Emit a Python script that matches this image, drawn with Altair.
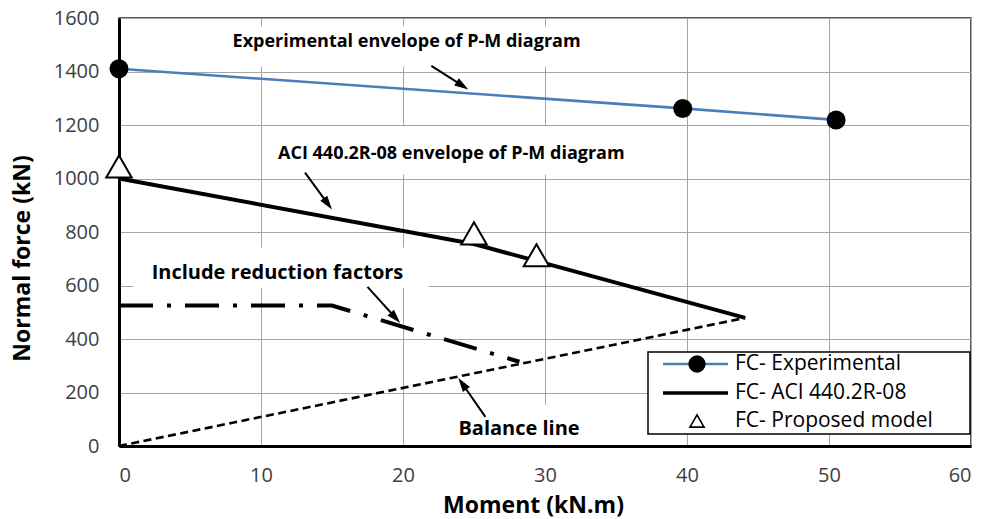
import math
import altair as alt
import pandas as pd

# Interaction envelopes: moment (kN.m) vs normal force (kN)
exp_moment = [0, 39.7, 50.5]
exp_force = [1410, 1262, 1219]
aci_moment = [0, 25, 44.1]
aci_force = [1000, 755, 479]
model_moment = [0, 25, 29.4]
model_force = [1045, 795, 713]
reduced_moment = [0, 15, 28.2]
reduced_force = [525, 525, 315]
balance_moment = [0, 44.1]
balance_force = [0, 479]

x_ticks = [0, 10, 20, 30, 40, 50, 60]
y_ticks = [0, 200, 400, 600, 800, 1000, 1200, 1400, 1600]

# Annotation texts anchored in data units (left edge, vertical middle)
note_text = ["Experimental envelope of P-M diagram",
             "ACI 440.2R-08 envelope of P-M diagram",
             "Include reduction factors",
             "Balance line"]
note_m = [8.0, 11.2, 2.3, 23.9]
note_p = [1509, 1090, 648, 64]
note_size = [18, 18, 20, 20]
# white boxes behind the annotation texts
box_m = [7.5, 10.6, 1.0, 23.3]
box_m2 = [33.2, 36.7, 21.8, 33.2]
box_p = [1569, 1195, 742, 154]
box_p2 = [1419, 1015, 592, 4]
# arrows: start -> tip
arrow_m = [22.0, 13.1, 17.5, 25.8]
arrow_p = [1421, 1022, 595, 109]
arrow_m2 = [24.6, 15.0, 19.8, 23.9]
arrow_p2 = [1333, 884, 460, 254]

legend_labels = ["FC- Experimental", "FC- ACI 440.2R-08", "FC- Proposed model"]

W, H = 852, 428
X_MAX, Y_MAX = 60, 1600
SX, SY = W / X_MAX, H / Y_MAX  # pixels per data unit
FONT = "Open Sans"
HEAD = 196  # arrowhead symbol size

xscale = alt.Scale(domain=[0, X_MAX], nice=False, zero=False)
yscale = alt.Scale(domain=[0, Y_MAX], nice=False, zero=False)

x_axis = alt.Axis(values=x_ticks, format="d", title="Moment (kN.m)", grid=True, ticks=False,
                  labelPadding=19, labelFontSize=20, labelFont=FONT, labelColor="#404040",
                  titleFont=FONT, titleFontSize=23, titleFontWeight="bold", titleColor="#000",
                  titleX=414, titleY=59, titleAlign="center", titleBaseline="middle",
                  domainColor="#000", domainWidth=3, gridColor="#a6a6a6", gridWidth=1)
y_axis = alt.Axis(values=y_ticks, format="d", title="Normal force (kN)", grid=True, ticks=False,
                  labelPadding=20, labelFontSize=20, labelFont=FONT, labelColor="#404040",
                  titleFont=FONT, titleFontSize=23, titleFontWeight="bold", titleColor="#000",
                  titleAngle=270, titleX=-97, titleY=240, titleAlign="center",
                  titleBaseline="middle",
                  domainColor="#000", domainWidth=3, gridColor="#a6a6a6", gridWidth=1)


def X(field="m"):
    return alt.X(f"{field}:Q", scale=xscale, axis=x_axis)


def Y(field="p"):
    return alt.Y(f"{field}:Q", scale=yscale, axis=y_axis)


def series(ms, ps):
    return pd.DataFrame({"m": ms, "p": ps, "order": list(range(len(ms)))})


exp_df = series(exp_moment, exp_force)
aci_df = series(aci_moment, aci_force)
model_df = series(model_moment, model_force)
red_df = series(reduced_moment, reduced_force)
bal_df = series(balance_moment, balance_force)

boxes_df = pd.DataFrame({"m": box_m, "m2": box_m2, "p": box_p, "p2": box_p2})
notes_df = pd.DataFrame({"m": note_m, "p": note_p, "t": note_text, "fs": note_size})

# arrow shafts end at the arrowhead centre; heads rotated along the shaft
rows = []
for m0, p0, m1, p1 in zip(arrow_m, arrow_p, arrow_m2, arrow_p2):
    dx, dy = (m1 - m0) * SX, (p1 - p0) * SY
    length = math.hypot(dx, dy)
    half = math.sqrt(HEAD) / 2
    cm = m1 - dx / length * half / SX
    cp = p1 - dy / length * half / SY
    ang = math.degrees(math.atan2(dx, dy)) % 360
    rows.append({"m": m0, "p": p0, "m2": cm, "p2": cp, "ang": ang})
arrows_df = pd.DataFrame(rows)

grid_cover = alt.Chart(boxes_df).mark_rect(fill="white", stroke=None).encode(
    x=X(), x2="m2:Q", y=Y(), y2="p2:Q")

balance = alt.Chart(bal_df).mark_line(color="#000", strokeWidth=2.6, strokeDash=[8, 4.5]).encode(
    x=X(), y=Y(), order="order:Q")
reduced = alt.Chart(red_df).mark_line(color="#000", strokeWidth=4, strokeDash=[34, 14, 4, 14]).encode(
    x=X(), y=Y(), order="order:Q")
aci = alt.Chart(aci_df).mark_line(color="#000", strokeWidth=4).encode(
    x=X(), y=Y(), order="order:Q")
exp_line = alt.Chart(exp_df).mark_line(color="#4a7ebb", strokeWidth=2.6).encode(
    x=X(), y=Y(), order="order:Q")
exp_pts = alt.Chart(exp_df).mark_point(shape="circle", filled=True, color="#000", size=361, opacity=1).encode(
    x=X(), y=Y())
model_pts = alt.Chart(model_df).mark_point(shape="triangle-up", filled=True, fill="white", stroke="#000",
                                           strokeWidth=2, size=650, opacity=1).encode(x=X(), y=Y())

shafts = alt.Chart(arrows_df).mark_rule(color="#000", strokeWidth=2).encode(
    x=X(), y=Y(), x2="m2:Q", y2="p2:Q")
heads = alt.Chart(arrows_df).mark_point(shape="M0,-1L0.62,1L-0.62,1Z", filled=True, color="#000",
                                        size=HEAD, opacity=1).encode(
    x=X("m2"), y=Y("p2"), angle=alt.Angle("ang:Q", scale=None))

notes = alt.Chart(notes_df).mark_text(align="left", baseline="middle", font=FONT,
                                      fontWeight="bold", color="#000").encode(
    x=X(), y=Y(), text="t:N", size=alt.Size("fs:Q", scale=None, legend=None))

# legend panel drawn at the lower right of the plot area
one = pd.DataFrame({"k": [0]})
leg_box = alt.Chart(one).mark_rect(fill="white", stroke="#000", strokeWidth=1.5).encode(
    x=alt.value(529), x2=alt.value(851), y=alt.value(334), y2=alt.value(416))
leg_line1 = alt.Chart(one).mark_rule(color="#4a7ebb", strokeWidth=2.6).encode(
    x=alt.value(544), x2=alt.value(609), y=alt.value(346))
leg_dot = alt.Chart(one).mark_point(shape="circle", filled=True, color="#000", size=300, opacity=1).encode(
    x=alt.value(578), y=alt.value(346))
leg_line2 = alt.Chart(one).mark_rule(color="#000", strokeWidth=3.5).encode(
    x=alt.value(544), x2=alt.value(609), y=alt.value(375))
leg_tri = alt.Chart(one).mark_point(shape="triangle-up", filled=True, fill="white", stroke="#000",
                                    strokeWidth=1.6, size=200, opacity=1).encode(
    x=alt.value(578), y=alt.value(403))
leg_df = pd.DataFrame({"t": legend_labels, "yy": [346, 375, 403]})
leg_text = alt.Chart(leg_df).mark_text(align="left", baseline="middle", font=FONT, fontSize=21,
                                       color="#000").encode(
    x=alt.value(616), y=alt.Y("yy:Q", scale=None), text="t:N")

chart = alt.layer(
    grid_cover, balance, reduced, aci, exp_line, exp_pts, model_pts,
    shafts, heads, notes,
    leg_box, leg_line1, leg_dot, leg_line2, leg_tri, leg_text,
).properties(
    width=W, height=H,
    padding={"left": 119, "top": 18, "right": 13, "bottom": 73},
    autosize=alt.AutoSizeParams(type="none"),
    background="white",
).configure_view(stroke="#262626", strokeWidth=1.5)

chart.save("out.html", embed_options={"renderer": "svg", "actions": False})
